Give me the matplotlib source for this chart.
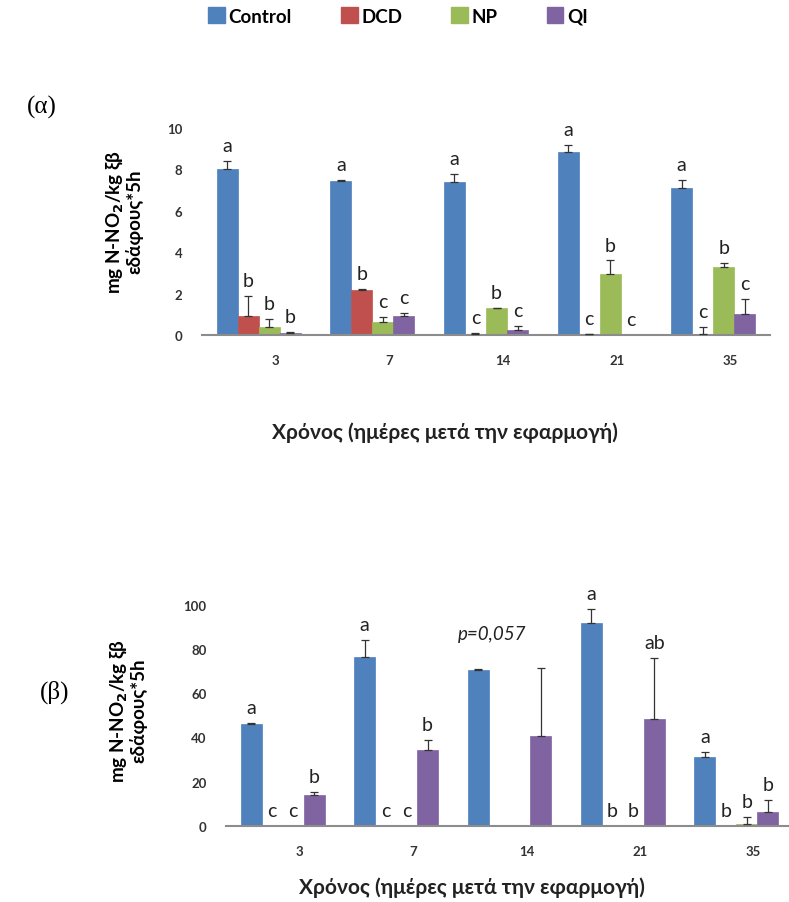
import numpy as np
import matplotlib
matplotlib.use("Agg")
import matplotlib.pyplot as plt

# ---- data ----
days = ["3", "7", "14", "21", "35"]
groups = ["Control", "DCD", "NP", "QI"]
colors = ["#4F81BD", "#C0504D", "#9BBB59", "#8064A2"]

# (α) panel
a_control = [8.0, 7.45, 7.37, 8.86, 7.08]
a_dcd = [0.93, 2.19, 0.05, 0.05, 0.05]
a_np = [0.38, 0.65, 1.29, 2.95, 3.30]
a_qi = [0.10, 0.90, 0.25, 0.0, 1.00]
a_control_err = [0.40, 0.05, 0.40, 0.30, 0.42]
a_dcd_err = [0.95, 0.05, 0.03, 0.02, 0.35]
a_np_err = [0.40, 0.20, 0.02, 0.65, 0.20]
a_qi_err = [0.05, 0.15, 0.20, 0.0, 0.75]
a_letters = [["a", "b", "b", "b"],
             ["a", "b", "c", "c"],
             ["a", "c", "b", "c"],
             ["a", "c", "b", "c"],
             ["a", "c", "b", "c"]]

# (β) panel
b_control = [46.1, 76.3, 70.5, 91.7, 31.3]
b_dcd = [0.0, 0.0, 0.0, 0.0, 0.0]
b_np = [0.0, 0.0, 0.0, 0.0, 0.8]
b_qi = [13.9, 34.4, 40.5, 48.3, 6.0]
b_control_err = [0.5, 8.0, 0.3, 6.5, 2.2]
b_dcd_err = [0.0, 0.0, 0.0, 0.0, 0.0]
b_np_err = [0.0, 0.0, 0.0, 0.0, 3.0]
b_qi_err = [1.5, 4.4, 31.0, 27.5, 5.8]
b_letters = [["a", "c", "c", "b"],
             ["a", "c", "c", "b"],
             ["", "", "", ""],
             ["a", "b", "b", "ab"],
             ["a", "b", "b", "b"]]

FONT = "Lato"
xlabel = "Χρόνος (ημέρες μετά την εφαρμογή)"
ylabel = "mg N-NO$_\\mathbf{2}$/kg ξβ\nεδάφους*5h"

fig = plt.figure(figsize=(7.89, 9.03), dpi=100)
W, H = 789, 903


def panel(rect, values, errs, letters, ylim, yticks):
    ax = fig.add_axes(rect)
    x = np.arange(len(days))
    w = 0.185
    for j, (vals, err) in enumerate(zip(values, errs)):
        pos = x + (j - 1.5) * w
        vals = np.array(vals)
        err = np.array(err)
        ax.bar(pos, vals, width=w, color=colors[j], edgecolor=colors[j],
               linewidth=0.5, zorder=2)
        m = err > 0
        ax.errorbar(pos[m], vals[m], yerr=[np.zeros(m.sum()), err[m]],
                    fmt="none", ecolor="#333333", elinewidth=0.9, capsize=3,
                    capthick=0.9, zorder=3)
        for i in range(len(days)):
            ax.annotate(letters[i][j], (pos[i], vals[i] + err[i]),
                        xytext=(0, 5), textcoords="offset points",
                        ha="center", va="bottom", fontsize=14,
                        family=FONT, color="#222222")
    ax.set_xlim(-0.5, len(days) - 0.5)
    ax.set_ylim(*ylim)
    ax.set_yticks(yticks)
    ax.set_xticks(x + 0.15)
    ax.set_xticklabels(days)
    for s in ["top", "right", "left"]:
        ax.spines[s].set_visible(False)
    ax.spines["bottom"].set_color("#8c8c8c")
    ax.spines["bottom"].set_linewidth(1.5)
    ax.tick_params(axis="both", length=0, labelsize=9.5, colors="#333333")
    ax.tick_params(axis="x", pad=14)
    ax.tick_params(axis="y", pad=14)
    for t in ax.get_xticklabels() + ax.get_yticklabels():
        t.set_family(FONT)
        t.set_fontweight("bold")
    return ax


ax1 = panel([202 / W, 1 - 336 / H, 568 / W, 207 / H],
            [a_control, a_dcd, a_np, a_qi],
            [a_control_err, a_dcd_err, a_np_err, a_qi_err],
            a_letters, (0, 10), range(0, 11, 2))
ax2 = panel([226 / W, 1 - 826.7 / H, 567 / W, 220.7 / H],
            [b_control, b_dcd, b_np, b_qi],
            [b_control_err, b_dcd_err, b_np_err, b_qi_err],
            b_letters, (0, 100), range(0, 101, 20))
ax2.text(2 - 0.15, 87, "p=0,057", ha="center", va="center", fontsize=13.5,
         style="italic", family=FONT, color="#222222")

# axis titles
fig.text(124 / W, 1 - 222 / H, ylabel, rotation=90, ha="center", va="center",
         fontsize=13.5, fontweight="bold", family=FONT, linespacing=1.0)
fig.text(128 / W, 1 - 711 / H, ylabel, rotation=90, ha="center", va="center",
         fontsize=13.5, fontweight="bold", family=FONT, linespacing=1.0)
fig.text(445 / W, 1 - 433 / H, xlabel, ha="center", va="center",
         fontsize=15, fontweight="bold", family=FONT, color="#222222")
fig.text(472 / W, 1 - 888 / H, xlabel, ha="center", va="center",
         fontsize=15, fontweight="bold", family=FONT, color="#222222")

# panel tags
fig.text(42 / W, 1 - 107 / H, "(α)", ha="center", va="center", fontsize=18,
         family="Liberation Serif")
fig.text(55 / W, 1 - 692 / H, "(β)", ha="center", va="center", fontsize=18,
         family="Liberation Serif")

# legend
handles = [plt.Rectangle((0, 0), 1, 1, color=c) for c in colors]
fig.legend(handles, groups, loc="center", bbox_to_anchor=(398 / W, 1 - 17 / H),
           ncol=4, frameon=False, handlelength=0.9, handleheight=0.9,
           handletextpad=0.2, columnspacing=2.6, borderpad=0,
           prop={"family": FONT, "weight": "bold", "size": 13.5})

fig.savefig("out.png", dpi=100)
